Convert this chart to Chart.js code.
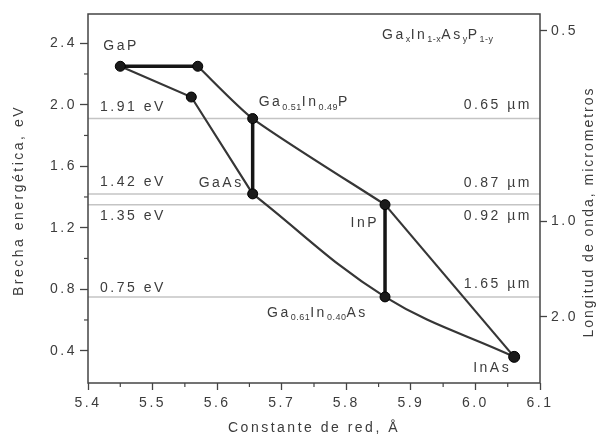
<!DOCTYPE html>
<html><head><meta charset="utf-8">
<script src="https://cdn.jsdelivr.net/npm/chart.js@4"></script>
<style>html,body{margin:0;padding:0;background:#fff;}#wrap{width:601px;height:440px;}</style>
</head><body><div id="wrap"><canvas id="c" width="601" height="440"></canvas></div>
<script>
// ---- data ----
const pointNames   = ['GaP', 'GaP-top', 'X', 'Ga0.51In0.49P', 'GaAs', 'InP', 'Ga0.61In0.40As', 'InAs'];
const latticeConst = [5.45, 5.57, 5.56, 5.655, 5.655, 5.86, 5.86, 6.06];
const bandGap      = [2.25, 2.25, 2.05, 1.91, 1.42, 1.35, 0.75, 0.36];
const straightPaths = [[0, 2, 4], [5, 7]];
const thickPaths    = [[0, 1], [3, 4], [5, 6]];
const curvedPaths   = [[1, 3, 5], [4, 6, 7]];
const curveTension  = [0.22, 0.38];
const refGaps       = [1.91, 1.42, 1.35, 0.75];
const refGapLabels  = ['1.91 eV', '1.42 eV', '1.35 eV', '0.75 eV'];
const refWaveLabels = ['0.65 \u00b5m', '0.87 \u00b5m', '0.92 \u00b5m', '1.65 \u00b5m'];
const xTicks    = [5.4, 5.5, 5.6, 5.7, 5.8, 5.9, 6.0, 6.1];
const yTicks    = [0.4, 0.8, 1.2, 1.6, 2.0, 2.4];
const waveTicks = [0.5, 1.0, 2.0];
const xRange = [5.4, 6.1];
const yRange = [0.19, 2.59];

const FONT = "'Liberation Sans', Arial, sans-serif";
const TXT = '#3c3c3c';
const pt = i => ({x: latticeConst[i], y: bandGap[i]});

const datasets = [];
datasets.push({data: latticeConst.map((_, i) => pt(i)), showLine: false,
  pointRadius: latticeConst.map((_, i) => i === 7 ? 5.5 : 5),
  pointBackgroundColor: '#1a1a1a', pointBorderColor: '#000', pointBorderWidth: 1, order: 0});
thickPaths.forEach(p => datasets.push({data: p.map(pt), showLine: true, borderColor: '#151515',
  borderWidth: 3.5, pointRadius: 0, tension: 0, order: 1}));
straightPaths.forEach(p => datasets.push({data: p.map(pt), showLine: true, borderColor: '#363636',
  borderWidth: 2.2, pointRadius: 0, tension: 0, order: 2}));
curvedPaths.forEach((p, k) => datasets.push({data: p.map(pt), showLine: true, borderColor: '#363636',
  borderWidth: 2.2, pointRadius: 0, tension: curveTension[k], order: 2}));
refGaps.forEach(g => datasets.push({data: [{x: xRange[0], y: g}, {x: xRange[1], y: g}], showLine: true,
  borderColor: '#c4c4c4', borderWidth: 1.5, pointRadius: 0, order: 3}));

function rich(ctx, parts, x, y, align) {
  let w = 0;
  parts.forEach(([t, s]) => { ctx.font = (s ? '9px ' : '14px ') + FONT; ctx.letterSpacing = s ? '0.5px' : '2.5px'; w += ctx.measureText(t).width; });
  if (align === 'right') x -= w;
  parts.forEach(([t, s]) => {
    ctx.font = (s ? '9px ' : '14px ') + FONT; ctx.letterSpacing = s ? '0.5px' : '2.5px';
    ctx.textAlign = 'left'; ctx.textBaseline = 'middle';
    ctx.fillText(t, x, s ? y + 5 : y);
    x += ctx.measureText(t).width;
  });
}

const deco = {
  id: 'deco',
  beforeDraw(chart) { chart.ctx.letterSpacing = '2.5px'; },
  afterDraw(chart) {
    const ctx = chart.ctx, a = chart.chartArea, sx = chart.scales.x, sy = chart.scales.y;
    ctx.save();
    ctx.strokeStyle = '#444'; ctx.lineWidth = 1.5;
    ctx.strokeRect(a.left, a.top, a.right - a.left, a.bottom - a.top);
    // minor ticks
    ctx.lineWidth = 1.2;
    for (let i = 0; i < xTicks.length - 1; i++) {
      const X = sx.getPixelForValue((xTicks[i] + xTicks[i + 1]) / 2);
      ctx.beginPath(); ctx.moveTo(X, a.bottom); ctx.lineTo(X, a.bottom + 4); ctx.stroke();
    }
    for (let i = 0; i < yTicks.length - 1; i++) {
      const Y = sy.getPixelForValue((yTicks[i] + yTicks[i + 1]) / 2);
      ctx.beginPath(); ctx.moveTo(a.left, Y); ctx.lineTo(a.left - 4, Y); ctx.stroke();
    }
    ctx.fillStyle = TXT;
    // reference labels
    const dyL = [-11, -12, 11, -9], dyR = [-13, -11, 11, -13];
    refGaps.forEach((g, i) => {
      const Y = sy.getPixelForValue(g);
      rich(ctx, [[refGapLabels[i], 0]], a.left + 12, Y + dyL[i], 'left');
      rich(ctx, [[refWaveLabels[i], 0]], a.right - 8, Y + dyR[i], 'right');
    });
    const P = i => [sx.getPixelForValue(latticeConst[i]), sy.getPixelForValue(bandGap[i])];
    let q;
    q = P(0); rich(ctx, [['GaP', 0]], q[0] - 17, q[1] - 20, 'left');
    q = P(3); rich(ctx, [['Ga', 0], ['0.51', 1], ['In', 0], ['0.49', 1], ['P', 0]], q[0] + 6, q[1] - 16, 'left');
    q = P(4); rich(ctx, [['GaAs', 0]], q[0] - 9, q[1] - 11, 'right');
    q = P(5); rich(ctx, [['InP', 0]], q[0] - 6, q[1] + 18, 'right');
    q = P(6); rich(ctx, [['Ga', 0], ['0.61', 1], ['In', 0], ['0.40', 1], ['As', 0]], q[0] - 118, q[1] + 16, 'left');
    q = P(7); rich(ctx, [['InAs', 0]], q[0] - 3, q[1] + 11, 'right');
    rich(ctx, [['Ga', 0], ['x', 1], ['In', 0], ['1-x', 1], ['As', 0], ['y', 1], ['P', 0], ['1-y', 1]], a.right - 158, a.top + 21, 'left');
    // axis titles
    ctx.font = '14px ' + FONT; ctx.textAlign = 'center'; ctx.textBaseline = 'middle';
    ctx.letterSpacing = '2.5px';
    ctx.fillText('Constante de red, \u00c5', (a.left + a.right) / 2, 428);
    ctx.save(); ctx.translate(19, (a.top + a.bottom) / 2 + 2); ctx.rotate(-Math.PI / 2);
    ctx.fillText('Brecha energ\u00e9tica, eV', 0, 0); ctx.restore();
    ctx.letterSpacing = '2px';
    ctx.save(); ctx.translate(589, 212); ctx.rotate(-Math.PI / 2);
    ctx.fillText('Longitud de onda, micrometros', 0, 0); ctx.restore();
    ctx.restore();
  }
};

const tickFont = {family: FONT, size: 14};
new Chart(document.getElementById('c'), {
  type: 'scatter',
  data: {datasets},
  options: {
    responsive: false, animation: false, devicePixelRatio: 1,
    layout: {padding: {top: 14, left: 0, right: 0, bottom: 0}},
    plugins: {legend: {display: false}, tooltip: {enabled: false}},
    scales: {
      x: {type: 'linear', min: xRange[0], max: xRange[1],
        afterBuildTicks: s => { s.ticks = xTicks.map(v => ({value: v})); },
        afterFit: s => { s.height = 57; },
        ticks: {autoSkip: false, maxRotation: 0, font: tickFont, color: TXT, padding: 5, callback: v => Number(v).toFixed(1)},
        grid: {drawOnChartArea: false, drawTicks: true, tickLength: 7, tickColor: '#444', tickWidth: 1.3},
        border: {display: false}},
      y: {type: 'linear', position: 'left', min: yRange[0], max: yRange[1],
        afterBuildTicks: s => { s.ticks = yTicks.map(v => ({value: v})); },
        afterFit: s => { s.width = 88; },
        ticks: {autoSkip: false, font: tickFont, color: TXT, padding: 3, callback: v => Number(v).toFixed(1)},
        grid: {drawOnChartArea: false, drawTicks: true, tickLength: 8, tickColor: '#444', tickWidth: 1.3},
        border: {display: false}},
      y2: {type: 'linear', position: 'right', min: yRange[0], max: yRange[1],
        afterBuildTicks: s => { s.ticks = waveTicks.map(w => ({value: 1.24 / w})); },
        afterFit: s => { s.width = 61; },
        ticks: {autoSkip: false, font: tickFont, color: TXT, padding: 4, callback: (v, i) => waveTicks[i].toFixed(1)},
        grid: {drawOnChartArea: false, drawTicks: true, tickLength: 7, tickColor: '#444', tickWidth: 1.3},
        border: {display: false}}
    }
  },
  plugins: [deco]
});
</script></body></html>
